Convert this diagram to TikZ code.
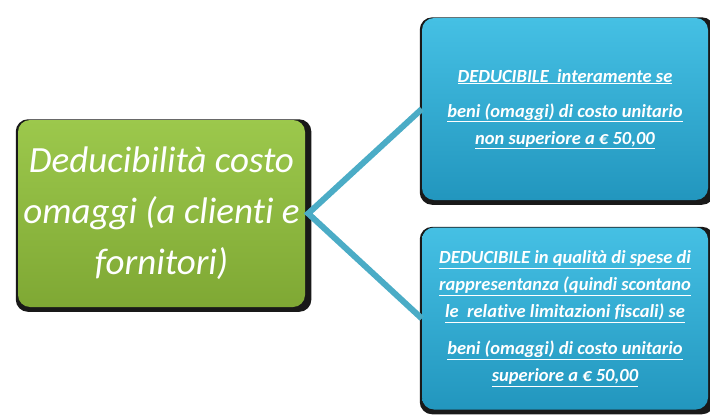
\documentclass[tikz,border=0pt]{standalone}
\usepackage{fontspec}
\setmainfont{Carlito}[Ligatures=NoCommon]
\usetikzlibrary{shadows}
\definecolor{greentop}{HTML}{9CC84C}
\definecolor{greenbot}{HTML}{7FA834}
\definecolor{bluetop}{HTML}{45C0E4}
\definecolor{bluebot}{HTML}{2296BE}
\definecolor{linkblue}{HTML}{4BACC6}
\begin{document}
\begin{tikzpicture}[x=1pt,y=-1pt,
    box/.style={rounded corners=12pt,text=white,align=center,
      drop shadow={fill=black,opacity=0.9,shadow xshift=2pt,shadow yshift=-2pt,shadow scale=1.03}},
    greenbox/.style={box,top color=greentop,bottom color=greenbot,minimum width=287pt,minimum height=187pt},
    bluebox/.style={box,top color=bluetop,bottom color=bluebot,minimum width=286pt,minimum height=182pt,
      font=\fontsize{18.5}{27}\selectfont\bfseries\itshape},
    link/.style={draw=linkblue,line width=6pt}]
\useasboundingbox (0,0) rectangle (710,420);

\node[greenbox,font=\fontsize{37}{51}\selectfont\itshape] (costo) at (161.5,213.5)
  {Deducibilità costo\\omaggi (a clienti e\\fornitori)};

\node[bluebox] (intera) at (565,109)
  {\underline{DEDUCIBILE\ \ interamente se}\\[8pt]
   \underline{beni (omaggi) di costo unitario}\\
   \underline{non superiore a € 50,00}};

\node[bluebox] (rappr) at (565,318.5)
  {\underline{DEDUCIBILE in qualità di spese di}\\
   \underline{rappresentanza (quindi scontano}\\
   \underline{le\ \ relative limitazioni fiscali) se}\\[10pt]
   \underline{beni (omaggi) di costo unitario}\\
   \underline{superiore a € 50,00}};

\draw[link] (intera.west) -- ([xshift=3pt]costo.east) -- (rappr.west);
\end{tikzpicture}
\end{document}
